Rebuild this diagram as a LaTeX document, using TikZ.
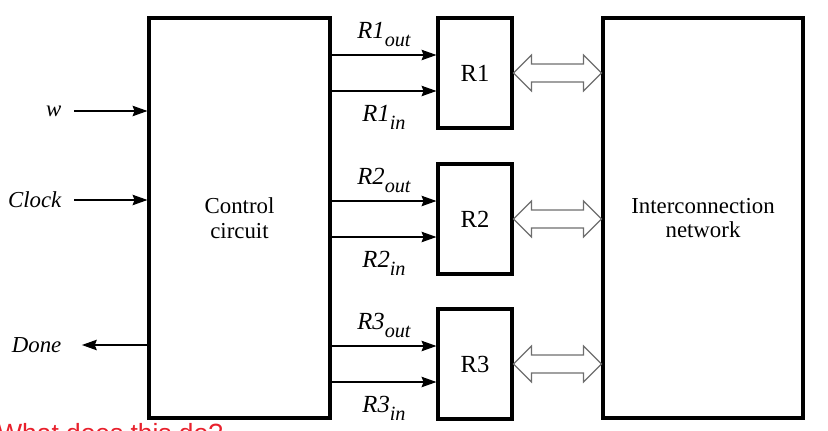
\documentclass[tikz,border=0pt]{standalone}
\usepackage{fontspec}
\setmainfont{Liberation Serif}
\newfontfamily\notefont{Liberation Sans}
\usepackage{xcolor}
\usetikzlibrary{positioning,calc,arrows.meta}
\definecolor{busgray}{RGB}{110,110,110}
\definecolor{notered}{RGB}{232,32,44}
\tikzset{
	blk/.style={draw, line width=1.8pt, align=center,
		font=\fontsize{13pt}{14pt}\selectfont},
	big/.style={blk, minimum width=3.62cm, minimum height=8cm},
	reg/.style={blk, minimum width=1.48cm, minimum height=2.2cm,
		font=\fontsize{14pt}{16pt}\selectfont},
	sig/.style={line width=0.6pt, -{Stealth[length=8.5pt, width=6pt, inset=1.2pt]}},
	io/.style={font=\fontsize{13pt}{15pt}\selectfont\itshape, anchor=east, inner xsep=7pt},
	ctl/.style={font=\fontsize{14pt}{16pt}\selectfont},
	bus/.style={draw=busgray, fill=white, line width=0.7pt, line join=miter},
	note/.style={font=\notefont\fontsize{15pt}{17pt}\selectfont, text=notered,
		anchor=north west, inner sep=0pt},
}
\newcommand{\ctlname}[2]{\textit{#1}\raisebox{-4.5pt}{\fontsize{11.5pt}{13pt}\selectfont\itshape #2}}
% hollow two-headed bus arrow between a register and the network
\newcommand{\busarrow}[2]{%
	\draw[bus] (#1.east) -- ++(18,-18) -- ++(0,9)
		-- ($(#2.west |- #1.east)+(-18,-9)$) -- ++(0,-9)
		-- (#2.west |- #1.east) -- ++(-18,18) -- ++(0,-9)
		-- ($(#1.east)+(18,9)$) -- ++(0,9) -- cycle;}

\begin{document}
\begin{tikzpicture}[x=0.02cm, y=-0.02cm]
	\useasboundingbox (0,0) rectangle (828,430);
	
	% ------------------- Main blocks -------------------
	\node[big] (ctrl) at (239.5,218) {Control\\circuit};
	\node[big, minimum width=4cm] (net) at (703,218) {Interconnection\\network};
	
	\node[reg] (R1) at (475,73) {R1};
	\node[reg] (R2) at (475,219) {R2};
	\node[reg] (R3) at (475,364) {R3};
	
	% ------------------- Inputs and output -------------------
	\node[io] (w) at (74,111) {w};
	\node[io] (clk) at (74,200) {Clock};
	\node[io] (done) at (74,345) {Done};
	
	\draw[sig] (w.east) -- (ctrl.west |- w.east);
	\draw[sig] (clk.east) -- (ctrl.west |- clk.east);
	\draw[sig, shorten >=4.5pt] (ctrl.west |- done.east) -- (done.east);
	
	% ------------------- Register R1 -------------------
	\coordinate (r1out) at ($(R1.west)+(0,-18)$);
	\coordinate (r1in) at ($(R1.west)+(0,18)$);
	\draw[sig] (ctrl.east |- r1out) -- (r1out)
		node[ctl, midway, above=1pt] (l1out) {\ctlname{R1}{out}};
	\draw[sig] (ctrl.east |- r1in) -- (r1in)
		node[ctl, midway, below=4.5pt] (l1in) {\ctlname{R1}{in}};
	\busarrow{R1}{net}
	
	% ------------------- Register R2 -------------------
	\coordinate (r2out) at ($(R2.west)+(0,-18)$);
	\coordinate (r2in) at ($(R2.west)+(0,18)$);
	\draw[sig] (ctrl.east |- r2out) -- (r2out)
		node[ctl, midway, above=1pt] (l2out) {\ctlname{R2}{out}};
	\draw[sig] (ctrl.east |- r2in) -- (r2in)
		node[ctl, midway, below=4.5pt] (l2in) {\ctlname{R2}{in}};
	\busarrow{R2}{net}
	
	% ------------------- Register R3 -------------------
	\coordinate (r3out) at ($(R3.west)+(0,-18)$);
	\coordinate (r3in) at ($(R3.west)+(0,18)$);
	\draw[sig] (ctrl.east |- r3out) -- (r3out)
		node[ctl, midway, above=1pt] (l3out) {\ctlname{R3}{out}};
	\draw[sig] (ctrl.east |- r3in) -- (r3in)
		node[ctl, midway, below=4.5pt] (l3in) {\ctlname{R3}{in}};
	\busarrow{R3}{net}
	
	% question below, cut off by the page edge
	\node[note] (quest) at (-3,423) {What does this do?};
	
\end{tikzpicture}
\end{document}
